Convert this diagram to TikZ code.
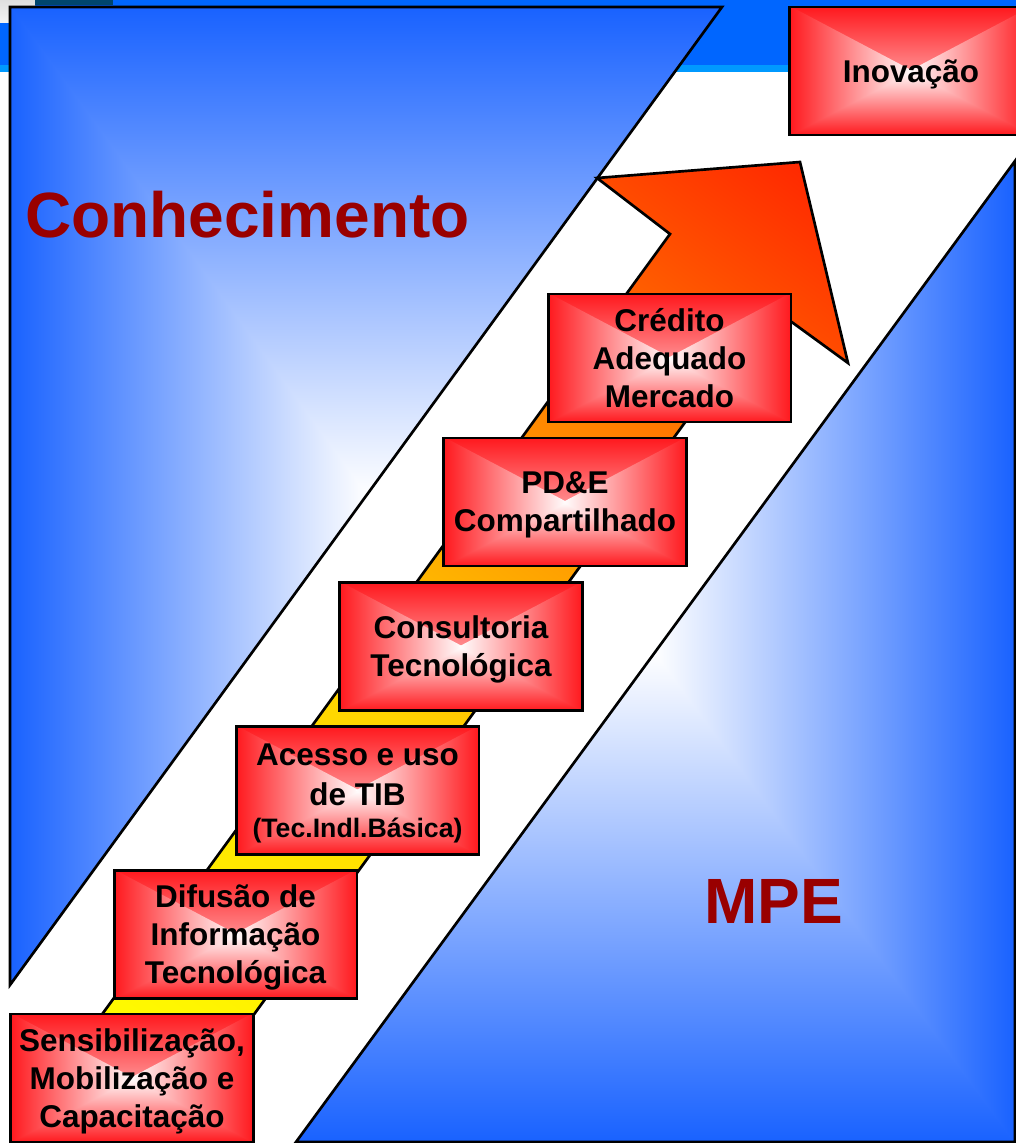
\documentclass[tikz,border=0pt]{standalone}
\usepackage{fontspec}
\setmainfont{Liberation Sans}
\usetikzlibrary{calc}

\definecolor{hdrblue}{RGB}{0,102,255}
\definecolor{hdrlight}{RGB}{0,153,255}
\definecolor{hdrteal}{RGB}{0,70,110}
\definecolor{triblue}{RGB}{25,98,255}
\definecolor{boxred}{RGB}{255,25,30}
\definecolor{titlered}{RGB}{153,0,0}
\definecolor{ay0}{RGB}{255,255,0}
\definecolor{ay1}{RGB}{255,246,0}
\definecolor{ay2}{RGB}{255,212,0}
\definecolor{ay3}{RGB}{255,170,0}
\definecolor{ay4}{RGB}{255,130,0}
\definecolor{ay5}{RGB}{255,75,0}
\definecolor{ay6}{RGB}{255,40,0}

\pgfdeclareverticalshading{arrowsh}{100bp}{color(0bp)=(ay0); color(28.85bp)=(ay0); color(33.46bp)=(ay1); color(46.92bp)=(ay2); color(53.85bp)=(ay3); color(60.77bp)=(ay4); color(68.46bp)=(ay5); color(73.5bp)=(ay6); color(100bp)=(ay6)}

% rectangular "from centre" gradient: x0,y0,x1,y1,edge colour,centre colour
\newcommand\rectgrad[6]{%
  \shade[top color=#5,bottom color=#6] (#1,#2) -- (#3,#2) -- ({(#1+#3)/2},{(#2+#4)/2}) -- cycle;
  \shade[top color=#6,bottom color=#5] (#1,#4) -- (#3,#4) -- ({(#1+#3)/2},{(#2+#4)/2}) -- cycle;
  \shade[left color=#5,right color=#6] (#1,#2) -- (#1,#4) -- ({#1+2},#4) -- ({(#1+#3)/2+2},{(#2+#4)/2}) -- ({#1+2},#2) -- cycle;
  \shade[left color=#6,right color=#5] (#3,#2) -- (#3,#4) -- ({#3-2},#4) -- ({(#1+#3)/2-2},{(#2+#4)/2}) -- ({#3-2},#2) -- cycle;
}
\newcommand\ppb{path picture bounding box}
\newcommand\boxgrad{%
  \shade[top color=boxred,bottom color=white] (\ppb.north west) -- (\ppb.north east) -- (\ppb.center) -- cycle;
  \shade[top color=white,bottom color=boxred] (\ppb.south west) -- (\ppb.south east) -- (\ppb.center) -- cycle;
  \shade[left color=boxred,right color=white] (\ppb.north west) -- (\ppb.south west) -- ($(\ppb.south west)+(1.5pt,0pt)$) -- ($(\ppb.center)+(1.5pt,0pt)$) -- ($(\ppb.north west)+(1.5pt,0pt)$) -- cycle;
  \shade[left color=white,right color=boxred] (\ppb.north east) -- (\ppb.south east) -- ($(\ppb.south east)+(-1.5pt,0pt)$) -- ($(\ppb.center)+(-1.5pt,0pt)$) -- ($(\ppb.north east)+(-1.5pt,0pt)$) -- cycle;
}
\newcommand\boxfont{\fontsize{23.6}{28.5}\selectfont\bfseries}
\newcommand\titlefont{\fontsize{48}{56}\selectfont\bfseries}

\tikzset{
  outline/.style={draw=black, line width=2pt, line join=miter},
  stepbox/.style={draw=black, line width=2pt, minimum width=182pt, minimum height=96pt,
    inner sep=0pt, align=center, font=\boxfont, text=black, text depth=0pt,
    fill=boxred, path picture={\boxgrad}},
  bigtitle/.style={text=titlered, font=\titlefont, inner sep=0pt}
}

\begin{document}
\begin{tikzpicture}[x=0.75pt,y=-0.75pt]
\useasboundingbox (0,0) rectangle (1016,1143);
\fill[white] (0,0) rectangle (1016,1143);
% slide header
\fill[hdrblue] (0,0) rectangle (1016,65);
\fill[hdrlight] (0,65) rectangle (1016,72);
\shade[top color=gray!25, bottom color=gray!10] (0,0) rectangle (35,22);
\fill[hdrteal] (35,0) rectangle (113,5);

% left triangle (Conhecimento)
\begin{scope}
  \clip (10,7) -- (722,7) -- (10,985) -- cycle;
  \fill[triblue] (10,7) rectangle (722,985);
  \rectgrad{10}{7}{722}{985}{triblue}{white}
\end{scope}
\draw[outline] (10,7) -- (722,7) -- (10,985) -- cycle;

% right triangle (MPE)
\begin{scope}
  \clip (1015,161) -- (1015,1142) -- (296,1142) -- cycle;
  \fill[triblue] (296,161) rectangle (1015,1142);
  \rectgrad{296}{161}{1015}{1142}{triblue}{white}
\end{scope}
\draw[outline] (1015,161) -- (1015,1142) -- (296,1142) -- cycle;

% staircase arrow
\coordinate (abl) at (39.7,1100);
\coordinate (aln) at (670,234);
\coordinate (alb) at (597,178);
\coordinate (atip) at (800,162);
\coordinate (arb) at (848,363);
\coordinate (arn) at (769.7,306);
\coordinate (abr) at (191.7,1100);
\begin{scope}
  \clip (abl) -- (aln) -- (alb) -- (atip) -- (arb) -- (arn) -- (abr) -- cycle;
  \begin{scope}[transform canvas={rotate around={-36.06:(115.7,1100)}}]
    \shade[shading=arrowsh] (-284.3,1200) rectangle (515.7,-100);
  \end{scope}
\end{scope}
\draw[outline] (abl) -- (aln) -- (alb) -- (atip) -- (arb) -- (arn) -- (abr) -- cycle;

% titles
\node[bigtitle, anchor=base west] (conh) at (25,237) {Conhecimento};
\node[bigtitle, anchor=base] (mpe) at (773.5,923) {MPE};

% steps
\node[stepbox] (inov) at (911,71) {Inovação};
\node[stepbox] (cred) at (669.5,358) {Crédito\\Adequado\\Mercado};
\node[stepbox] (pde) at (565,502) {PD\&E\\Compartilhado};
\node[stepbox] (cons) at (461,646.5) {Consultoria\\Tecnológica};
\node[stepbox] (tib) at (357.5,790.5) {Acesso e uso\\[1.5pt]de TIB\\[-4pt]{\fontsize{20}{24}\selectfont(Tec.Indl.Básica)}};
\node[stepbox] (dif) at (235.5,934.5) {Difusão de\\Informação\\Tecnológica};
\node[stepbox] (sens) at (132,1078) {Sensibilização,\\Mobilização e\\Capacitação};
\end{tikzpicture}
\end{document}
